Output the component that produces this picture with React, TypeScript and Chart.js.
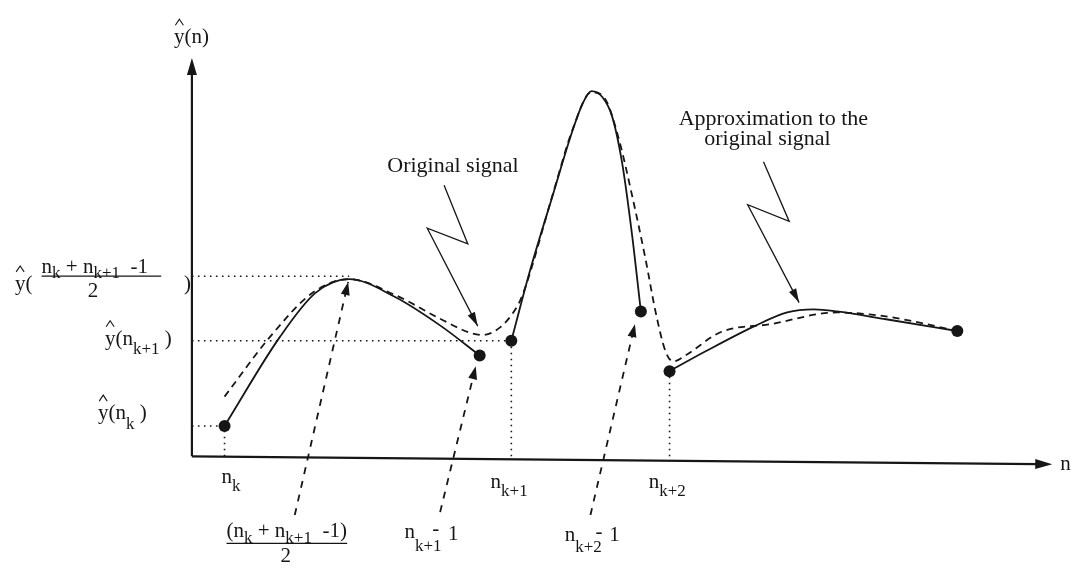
import React, { useEffect, useRef } from "react";
import { Chart, registerables } from "chart.js";

Chart.register(...registerables);

// ---- data (n on x, amplitude on y) ----
// Approximation to the original signal (solid), three segments
const approx1X = [3.3, 8.9, 12.5, 15.9, 20.5, 25.2, 29.1];
const approx1Y = [3.1, 12.2, 16.7, 18.1, 16.3, 13.3, 10.3];
const approx2X = [32.3, 34.2, 36.5, 38.5, 39.5, 40.4, 41.5, 42.5, 43.5, 44.5, 45.4];
const approx2Y = [11.8, 19.0, 26.7, 33.3, 36.0, 37.3, 36.7, 34.7, 30.0, 22.7, 14.8];
const approx3X = [48.3, 51.9, 56.9, 60.2, 62.9, 65.2, 70.2, 77.4];
const approx3Y = [8.7, 10.7, 13.3, 14.7, 15.0, 14.8, 14.0, 12.8];

// Original signal (dashed)
const originalX = [3.3, 7.9, 12.2, 15.9, 20.5, 25.2, 28.2, 29.4, 31.2, 32.5, 33.4, 36.5, 38.5, 40.4, 41.9, 43.2, 44.5, 45.9, 46.9, 47.9, 48.7, 49.9, 53.5, 58.5, 65.2, 68.5, 71.9, 77.4];
const originalY = [6.1, 12.2, 16.7, 18.1, 16.5, 14.0, 12.6, 12.4, 13.2, 14.7, 16.4, 26.8, 33.4, 37.2, 36.3, 32.3, 26.7, 20.0, 14.7, 10.7, 9.7, 10.3, 12.7, 13.5, 14.7, 14.5, 14.0, 12.8];

// Sample points (dots)
const sampleX = [3.3, 29.1, 32.3, 45.4, 48.3, 77.4];
const sampleY = [3.1, 10.3, 11.8, 14.8, 8.7, 12.8];

// Dotted guide lines [x0, y0, x1, y1]
const guides: number[][] = [
  [0, 3.1, 3.3, 3.1],
  [3.3, 0, 3.3, 3.1],
  [0, 18.4, 15.9, 18.4],
  [0, 11.8, 32.3, 11.8],
  [32.3, 0, 32.3, 11.8],
  [48.3, 0, 48.3, 8.7],
];

// Dashed pointer arrows [fromX, fromY, toX, toY]
const pointers: number[][] = [
  [10.4, -6.0, 15.8, 17.8],
  [25.1, -5.7, 28.7, 9.2],
  [40.3, -6.0, 44.8, 13.5],
];

// Zig-zag annotation arrows
const zigOriginalX = [25.5, 27.9, 23.8, 28.9];
const zigOriginalY = [27.7, 21.7, 23.3, 13.3];
const zigApproxX = [57.8, 60.4, 56.2, 61.4];
const zigApproxY = [30.1, 24.0, 25.7, 15.7];

const INK = "#161616";
const FONT = "'Liberation Serif', 'DejaVu Serif', serif";

const pts = (xs: number[], ys: number[]) => xs.map((x, i) => ({ x, y: ys[i] }));

function drawHead(ctx: CanvasRenderingContext2D, x0: number, y0: number, x1: number, y1: number, len: number, half: number) {
  const a = Math.atan2(y1 - y0, x1 - x0);
  ctx.beginPath();
  ctx.moveTo(x1, y1);
  ctx.lineTo(x1 - len * Math.cos(a) + half * Math.sin(a), y1 - len * Math.sin(a) - half * Math.cos(a));
  ctx.lineTo(x1 - len * Math.cos(a) - half * Math.sin(a), y1 - len * Math.sin(a) + half * Math.cos(a));
  ctx.closePath();
  ctx.fill();
}

const diagramPlugin = {
  id: "diagram",
  beforeDatasetsDraw(chart: any) {
    const ctx: CanvasRenderingContext2D = chart.ctx;
    const xs = chart.scales.x;
    const ys = chart.scales.y;
    const X = (v: number) => xs.getPixelForValue(v);
    const Y = (v: number) => ys.getPixelForValue(v);
    ctx.save();
    ctx.strokeStyle = INK;
    ctx.fillStyle = INK;
    ctx.lineWidth = 2.2;
    // y axis
    ctx.beginPath();
    ctx.moveTo(X(0), Y(0));
    ctx.lineTo(X(0), Y(39.5));
    ctx.stroke();
    drawHead(ctx, X(0), Y(30), X(0), Y(40.7), 17, 5);
    // x axis
    ctx.beginPath();
    ctx.moveTo(X(0), Y(0));
    ctx.lineTo(X(85.5), Y(-0.79));
    ctx.stroke();
    drawHead(ctx, X(0), Y(0), X(87), Y(-0.8), 17, 5);
    ctx.restore();
  },
  afterDatasetsDraw(chart: any) {
    const ctx: CanvasRenderingContext2D = chart.ctx;
    const xs = chart.scales.x;
    const ys = chart.scales.y;
    const X = (v: number) => xs.getPixelForValue(v);
    const Y = (v: number) => ys.getPixelForValue(v);
    ctx.save();
    ctx.fillStyle = INK;
    ctx.strokeStyle = INK;

    // arrowheads on datasets flagged as arrows
    chart.data.datasets.forEach((ds: any, i: number) => {
      if (!ds.arrowHead) return;
      const meta = chart.getDatasetMeta(i);
      const n = meta.data.length;
      const p0 = meta.data[n - 2];
      const p1 = meta.data[n - 1];
      drawHead(ctx, p0.x, p0.y, p1.x, p1.y, ds.arrowHead[0], ds.arrowHead[1]);
    });

    const MAIN = 21;
    const SUB = 17;
    const rich = (segs: [string, number][], x: number, y: number, subDy: number) => {
      let cx = x;
      for (const [t, s] of segs) {
        ctx.font = `${s ? SUB : MAIN}px ${FONT}`;
        ctx.fillText(t, cx, s ? y + subDy : y);
        cx += ctx.measureText(t).width;
      }
      return cx;
    };
    const hatOver = (x: number, base: number) => {
      ctx.font = `${MAIN}px ${FONT}`;
      const w = ctx.measureText("y").width;
      const cx = x + w / 2;
      ctx.save();
      ctx.lineWidth = 1.1;
      ctx.beginPath();
      ctx.moveTo(cx - 4, base - 18);
      ctx.lineTo(cx, base - 24);
      ctx.lineTo(cx + 4, base - 18);
      ctx.stroke();
      ctx.restore();
    };
    const bar = (x0: number, x1: number, y: number) => {
      ctx.save();
      ctx.lineWidth = 1.3;
      ctx.beginPath();
      ctx.moveTo(x0, y);
      ctx.lineTo(x1, y);
      ctx.stroke();
      ctx.restore();
    };
    ctx.textBaseline = "alphabetic";
    ctx.textAlign = "left";

    // y axis title
    rich([["y(n)", 0]], X(-1.8), Y(42.2), 0);
    hatOver(X(-1.8), Y(42.2));

    // y-level labels
    rich([["y(", 0]], X(-17.9), Y(17.0), 0);
    hatOver(X(-17.9), Y(17.0));
    rich([["n", 0], ["k", 1], [" + n", 0], ["k+1", 1], ["  -1", 0]], X(-15.2), Y(18.7), 5);
    bar(X(-15.2), X(-3.1), Y(18.4));
    ctx.textAlign = "center";
    ctx.font = `${MAIN}px ${FONT}`;
    ctx.fillText("2", X(-10.0), Y(16.3));
    ctx.textAlign = "left";
    rich([[")", 0]], X(-0.8), Y(17.0), 0);

    rich([["y(n", 0], ["k+1", 1], [" )", 0]], X(-8.8), Y(11.4), 9);
    hatOver(X(-8.8), Y(11.4));
    rich([["y(n", 0], ["k", 1], [" )", 0]], X(-9.5), Y(3.8), 10);
    hatOver(X(-9.5), Y(3.8));

    // x-level labels
    rich([["n", 0], ["k", 1]], X(3.0), Y(-2.7), 8);
    rich([["n", 0], ["k+1", 1]], X(30.2), Y(-3.2), 8);
    rich([["n", 0], ["k+2", 1]], X(46.2), Y(-3.2), 8);

    rich([["(n", 0], ["k", 1], [" + n", 0], ["k+1", 1], ["  -1)", 0]], X(3.5), Y(-8.2), 6);
    bar(X(3.5), X(15.7), Y(-8.9));
    ctx.textAlign = "center";
    ctx.font = `${MAIN}px ${FONT}`;
    ctx.fillText("2", X(9.5), Y(-10.8));
    ctx.textAlign = "left";

    rich([["n", 0], ["k+1", 1]], X(21.5), Y(-8.3), 13);
    rich([["-", 0]], X(24.3), Y(-8.0), 0);
    rich([["1", 0]], X(25.9), Y(-8.5), 0);
    rich([["n", 0], ["k+2", 1]], X(37.7), Y(-8.7), 11);
    rich([["-", 0]], X(40.8), Y(-8.3), 0);
    rich([["1", 0]], X(42.2), Y(-8.7), 0);

    ctx.textBaseline = "middle";
    rich([["n", 0]], X(87.8), Y(-0.8), 0);
    ctx.textBaseline = "alphabetic";

    // annotations
    ctx.textAlign = "center";
    ctx.font = `22px ${FONT}`;
    ctx.fillText("Original signal", X(26.4), Y(29.0));
    ctx.fillText("Approximation to the", X(58.8), Y(33.8));
    ctx.fillText("original signal", X(58.2), Y(31.8));
    ctx.restore();
  },
};

export default function App() {
  const ref = useRef<HTMLCanvasElement>(null);
  useEffect(() => {
    document.body.style.margin = "0";
    document.body.style.background = "#ffffff";
    const canvas = ref.current!;
    const solid = (label: string, xs: number[], ys: number[]) => ({
      label,
      data: pts(xs, ys),
      borderColor: INK,
      borderWidth: 1.8,
      pointRadius: 0,
      cubicInterpolationMode: "monotone" as const,
      fill: false,
      clip: false as any,
    });
    const datasets: any[] = [
      solid("Approximation 1", approx1X, approx1Y),
      solid("Approximation 2", approx2X, approx2Y),
      solid("Approximation 3", approx3X, approx3Y),
      {
        ...solid("Original signal", originalX, originalY),
        borderDash: [7, 5],
        borderWidth: 1.8,
      },
      ...guides.map((g, i) => ({
        label: "guide " + i,
        data: [{ x: g[0], y: g[1] }, { x: g[2], y: g[3] }],
        borderColor: INK,
        borderWidth: 1.6,
        borderDash: [1.6, 4.4],
        pointRadius: 0,
        tension: 0,
        clip: false,
      })),
      ...pointers.map((p, i) => ({
        label: "pointer " + i,
        data: [{ x: p[0], y: p[1] }, { x: p[2], y: p[3] }],
        borderColor: INK,
        borderWidth: 1.8,
        borderDash: [7, 7],
        pointRadius: 0,
        tension: 0,
        clip: false,
        arrowHead: [13, 4.5],
      })),
      {
        label: "zig original",
        data: pts(zigOriginalX, zigOriginalY),
        borderColor: INK,
        borderWidth: 1.3,
        pointRadius: 0,
        tension: 0,
        clip: false,
        arrowHead: [14, 4],
      },
      {
        label: "zig approx",
        data: pts(zigApproxX, zigApproxY),
        borderColor: INK,
        borderWidth: 1.3,
        pointRadius: 0,
        tension: 0,
        clip: false,
        arrowHead: [14, 4],
      },
      {
        label: "samples",
        data: pts(sampleX, sampleY),
        showLine: false,
        pointRadius: 6,
        pointBackgroundColor: INK,
        pointBorderColor: INK,
        pointBorderWidth: 0,
        clip: false,
      },
    ];
    const chart = new Chart(canvas, {
      type: "line",
      data: { datasets },
      options: {
        animation: false,
        responsive: false,
        devicePixelRatio: 1,
        events: [],
        layout: { padding: 0 },
        plugins: { legend: { display: false }, tooltip: { enabled: false } },
        scales: {
          x: { type: "linear", min: -18.8, max: 89.2, display: false },
          y: { type: "linear", min: -11, max: 46, display: false },
        },
      },
      plugins: [diagramPlugin],
    });
    return () => chart.destroy();
  }, []);
  return (
    <div style={{ position: "absolute", left: 0, top: 0, width: 1080, height: 570, background: "#fff" }}>
      <canvas ref={ref} width={1080} height={570} />
    </div>
  );
}
